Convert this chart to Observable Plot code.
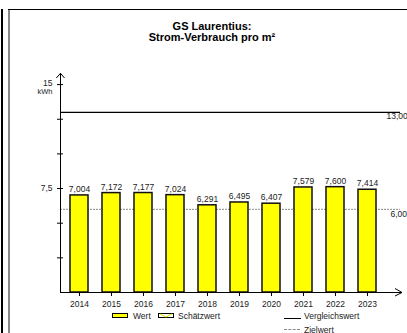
<!DOCTYPE html>
<html><head><meta charset="utf-8">
<script src="https://cdn.jsdelivr.net/npm/d3@7"></script>
<script src="https://cdn.jsdelivr.net/npm/@observablehq/plot@0.6"></script>
<style>
html,body{margin:0;padding:0;background:#fff;}
body{width:407px;height:333px;position:relative;overflow:hidden;font-family:"Liberation Sans",Arial,sans-serif;color:#222;}
.abs{position:absolute;}
.title{left:112px;width:200px;top:21.3px;text-align:center;font-weight:bold;font-size:11px;line-height:11px;color:#000;}
.lg{font-size:8.5px;line-height:9px;white-space:nowrap;}
</style></head><body>
<div class="abs" style="left:1px;top:9px;width:2px;height:324px;background:#000"></div>
<div class="abs" style="left:8px;top:9px;width:2px;height:324px;background:#888"></div>
<div class="abs" style="left:8px;top:9px;width:399px;height:1px;background:#000"></div>
<div id="chart" class="abs" style="left:0;top:0"></div>
<div class="abs title">GS Laurentius:<br>Strom-Verbrauch pro m²</div>
<div id="legend"></div>
<script>
const years = ["2014","2015","2016","2017","2018","2019","2020","2021","2022","2023"];
const values = [7.004, 7.172, 7.177, 7.024, 6.291, 6.495, 6.407, 7.579, 7.600, 7.414];
const vergleichswert = 13.00;
const zielwert = 6.00;
const yTicks = [2.5, 5, 7.5, 10, 12.5, 15];
const yTickLabelValues = [7.5, 15];
const yTickLabelTexts = ["7,5", "15"];
const yUnit = "kWh";
const legendBars = ["Wert", "Schätzwert"];
const legendLines = ["Vergleichswert", "Zielwert"];

const de = d3.formatLocale({decimal: ",", thousands: ".", grouping: [3], currency: ["", " €"]});
const fmt3 = de.format(".3f");
const fmt2 = de.format(".2f");
const data = years.map((year, i) => ({year, value: values[i]}));
const yLabels = yTickLabelValues.map((v, i) => ({v, t: yTickLabelTexts[i]}));

const chart = Plot.plot({
  width: 407, height: 333,
  marginLeft: 60, marginRight: 7, marginTop: 73, marginBottom: 41,
  style: {fontFamily: "'Liberation Sans', Arial, sans-serif", fontSize: "8.5px", color: "#000", background: "transparent"},
  x: {domain: years, paddingInner: 0.43, paddingOuter: 0.4, align: 0.31, label: null},
  y: {domain: [0, 15.8], label: null},
  marks: [
    Plot.ruleY([zielwert], {stroke: "#8a8a8a", strokeDasharray: "2,1", strokeWidth: 1}),
    Plot.ruleY([vergleichswert], {stroke: "#000", strokeWidth: 1.2}),
    Plot.barY(data, {x: "year", y: "value", fill: "#ffff00", stroke: "#111", strokeWidth: 1.5}),
    Plot.text(data, {x: "year", y: "value", text: d => fmt3(d.value), dy: -6, fill: "#222"}),
    Plot.text([vergleichswert], {y: d => d, text: d => fmt2(d), frameAnchor: "right", textAnchor: "start", dx: -14, dy: 4, fill: "#222"}),
    Plot.text([zielwert], {y: d => d, text: d => fmt2(d), frameAnchor: "right", textAnchor: "start", dx: -10, dy: 5, fill: "#222"}),
    Plot.frame({anchor: "left", stroke: "#000"}),
    Plot.ruleY([0], {stroke: "#000", insetRight: -2}),
    Plot.axisX({tickSize: 4, tickPadding: 4, label: null, fill: "#222"}),
    Plot.axisY({ticks: yTicks, tickSize: 6, dx: 3, label: null, tickFormat: () => ""}),
    Plot.text(yLabels.filter(d => d.v !== 15), {y: "v", text: "t", frameAnchor: "left", textAnchor: "end", dx: -8, fill: "#222"}),
    Plot.text(yLabels.filter(d => d.v === 15), {y: "v", text: "t", frameAnchor: "left", textAnchor: "end", dx: -8, dy: -1.5, fill: "#222"}),
    Plot.text([15], {y: d => d, text: [yUnit], frameAnchor: "left", textAnchor: "end", dx: -8, dy: 7.5, fontSize: 7.5, fill: "#222"})
  ]
});
document.getElementById("chart").appendChild(chart);

// axis arrowheads, positioned through the plot's scales
const sx = chart.scale("x"), sy = chart.scale("y");
const xr = sx.range[1], y0 = sy.apply(0), yTop = sy.apply(15.8), xl = sx.range[0];
const svg = d3.select(chart);
svg.append("path").attr("d", `M${xl - 3.7},${yTop + 5} L${xl + 0.5},${yTop + 0.3} L${xl + 4.5},${yTop + 5}`)
  .attr("fill", "none").attr("stroke", "#000").attr("stroke-width", 1);
svg.append("path").attr("d", `M${xr - 5},${y0 - 3.5} L${xr + 2},${y0 + 0.5} L${xr - 5},${y0 + 4}`)
  .attr("fill", "none").attr("stroke", "#000").attr("stroke-width", 1);

// legend
const lg = document.getElementById("legend");
lg.innerHTML = `
<div class="abs" style="left:112px;top:313px;width:16px;height:5px;box-sizing:border-box;border:1px solid #000;background:#ffff00"></div>
<div class="abs lg" style="left:133px;top:311.5px">${legendBars[0]}</div>
<svg class="abs" style="left:158px;top:313px" width="16" height="5"><rect x="0.5" y="0.5" width="15" height="4" fill="#fff" stroke="#000"/><path d="M2,1 L8,4 L14,1" stroke="#e6e600" stroke-width="1" fill="none"/></svg>
<div class="abs lg" style="left:178px;top:311.5px">${legendBars[1]}</div>
<div class="abs" style="left:284px;top:318px;width:17px;height:1px;background:#000"></div>
<div class="abs lg" style="left:304px;top:311.5px">${legendLines[0]}</div>
<div class="abs" style="left:284px;top:329px;width:16px;height:0;border-top:1px dashed #8a8a8a"></div>
<div class="abs lg" style="left:304px;top:325.5px">${legendLines[1]}</div>`;
</script>
</body></html>
